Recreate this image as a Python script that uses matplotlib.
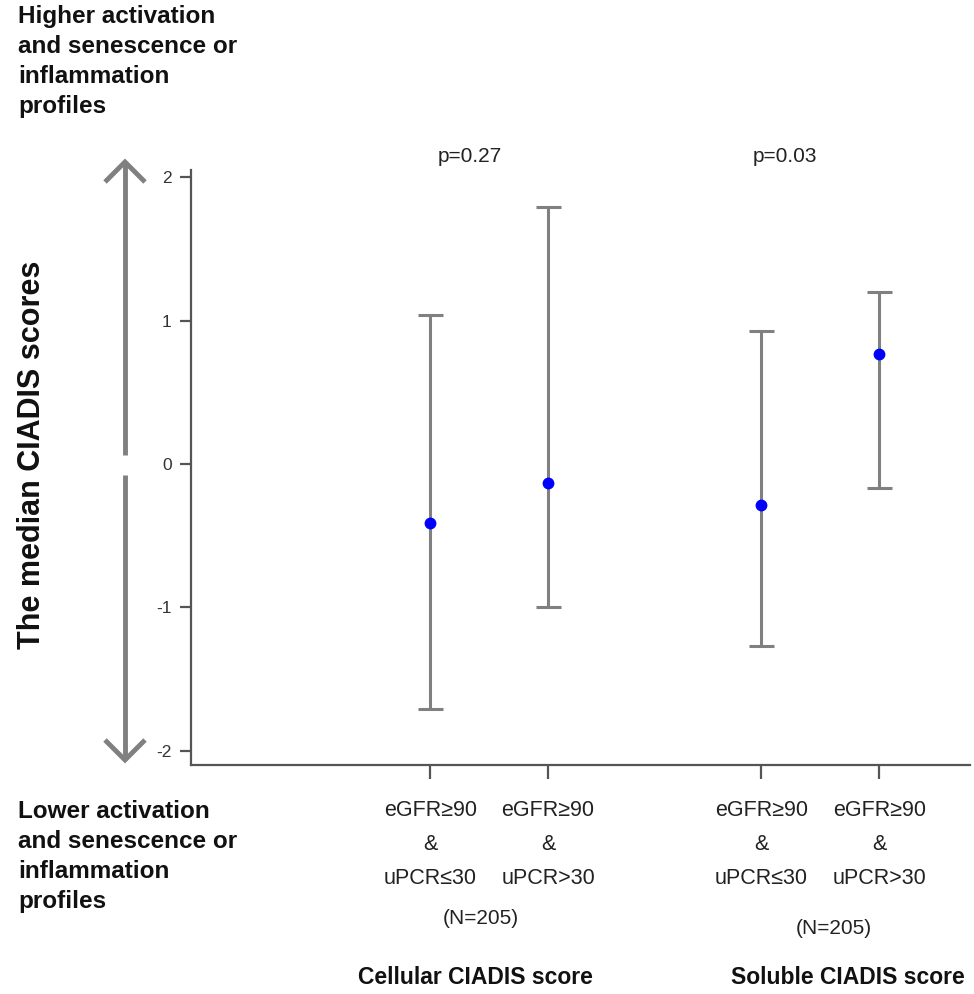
import matplotlib
matplotlib.use("Agg")
import matplotlib.pyplot as plt
from matplotlib.lines import Line2D

# ---- data ----
categories = ["eGFR\u226590\n&\nuPCR\u226430", "eGFR\u226590\n&\nuPCR>30",
              "eGFR\u226590\n&\nuPCR\u226430", "eGFR\u226590\n&\nuPCR>30"]
medians = [-0.41, -0.13, -0.29, 0.77]
upper = [1.04, 1.79, 0.93, 1.20]
lower = [-1.71, -1.00, -1.27, -0.17]
p_values = ["p=0.27", "p=0.03"]
group_n = ["(N=205)", "(N=205)"]
group_names = ["Cellular CIADIS score", "Soluble CIADIS score"]
yticks = [2, 1, 0, -1, -2]
ytick_labels = ["2", "1", "0", "-1", "-2"]

# ---- layout ----
positions = [1.0, 2.0, 3.81, 4.81]
W, H = 974, 994
fig = plt.figure(figsize=(W / 100, H / 100), dpi=100)
plt.rcParams['font.family'] = ['Liberation Sans', 'DejaVu Sans']

ax = fig.add_axes([191 / W, 1 - 765 / H, (970 - 191) / W, (765 - 170) / H])
ax.set_xlim(-1.03, 5.58)
ax.set_ylim(-2.1, 2.05)

yerr = [[m - l for m, l in zip(medians, lower)], [u - m for m, u in zip(medians, upper)]]
eb = ax.errorbar(positions, medians, yerr=yerr, fmt='none', ecolor='#808080',
                 elinewidth=2.2, capsize=9, capthick=2.2, zorder=2)
for cap in eb[1]:
    cap.set_color('#333333')
ax.plot(positions, medians, 'o', color='#0000ff', markersize=7.5, zorder=3)

for s in ['top', 'right']:
    ax.spines[s].set_visible(False)
for s in ['left', 'bottom']:
    ax.spines[s].set_color('#555555')
    ax.spines[s].set_linewidth(1.6)

ax.set_yticks(yticks)
ax.set_yticklabels(ytick_labels, fontsize=12.5, color='#333333')
ax.tick_params(axis='y', length=8, width=1.6, color='#555555', pad=6)
ax.set_xticks(positions)
ax.set_xticklabels(categories, fontsize=15.5, color='#222222', linespacing=1.82)
ax.tick_params(axis='x', length=10, width=1.6, color='#555555', pad=15)

# p-values
p_x = [470, 785]
for i, p in enumerate(p_values):
    fig.text(p_x[i] / W, 1 - 157 / H, p, ha='center', va='center',
             fontsize=15, color='#222222')

# group annotations
n_x, n_y = [481, 834], [918, 928]
g_x = [475, 848]
for i in range(2):
    fig.text(n_x[i] / W, 1 - n_y[i] / H, group_n[i], ha='center', va='center',
             fontsize=15, color='#222222')
    fig.text(g_x[i] / W, 1 - 977 / H, group_names[i], ha='center',
             va='center', fontsize=16.5, fontweight='bold', color='#111111')

# side texts
fig.text(18 / W, 1 - 5 / H, "Higher activation\nand senescence or\ninflammation\nprofiles",
         ha='left', va='top', fontsize=17.5, fontweight='bold', linespacing=1.38,
         color='#111111')
fig.text(18 / W, 1 - 800 / H, "Lower activation\nand senescence or\ninflammation\nprofiles",
         ha='left', va='top', fontsize=17.5, fontweight='bold', linespacing=1.38,
         color='#111111')

fig.text(32 / W, 1 - 455 / H, "The median CIADIS scores", rotation=90,
         ha='center', va='center', fontsize=22, fontweight='bold', color='#111111')

# double arrow (decoration)
ax_x = 125
col = '#808080'
lw = 3.5
def fl(xs, ys):
    fig.add_artist(Line2D([x / W for x in xs], [1 - y / H for y in ys],
                          color=col, linewidth=lw, solid_capstyle='butt',
                          solid_joinstyle='miter'))
fl([ax_x, ax_x], [162, 455])
fl([ax_x, ax_x], [475, 760])
fl([ax_x - 20, ax_x, ax_x + 20], [182, 162, 182])
fl([ax_x - 20, ax_x, ax_x + 20], [740, 760, 740])

fig.savefig("out.png", dpi=100)
